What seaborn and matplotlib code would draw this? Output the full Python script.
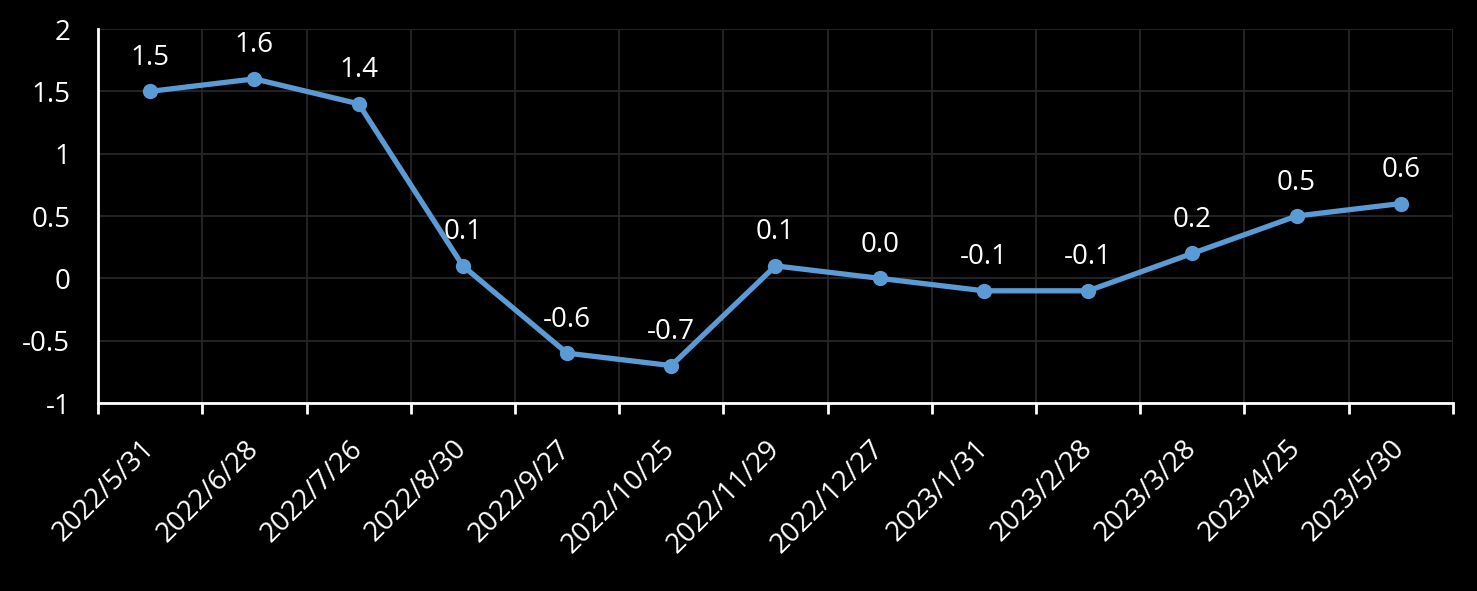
import matplotlib
matplotlib.use("Agg")
import matplotlib.pyplot as plt
import matplotlib.transforms as mtransforms
import seaborn as sns
import pandas as pd
import numpy as np

dates = ["2022/5/31", "2022/6/28", "2022/7/26", "2022/8/30", "2022/9/27", "2022/10/25",
         "2022/11/29", "2022/12/27", "2023/1/31", "2023/2/28", "2023/3/28", "2023/4/25", "2023/5/30"]
values = [1.5, 1.6, 1.4, 0.1, -0.6, -0.7, 0.1, 0.0, -0.1, -0.1, 0.2, 0.5, 0.6]
yticks = [-1, -0.5, 0, 0.5, 1, 1.5, 2]
ytick_labels = ["-1", "-0.5", "0", "0.5", "1", "1.5", "2"]

sns.set_theme(style="dark")
plt.rcParams['font.family'] = ['Open Sans', 'DejaVu Sans']

df = pd.DataFrame({"date": dates, "value": values})
df["pos"] = np.arange(len(dates))

fig = plt.figure(figsize=(14.77, 5.91), dpi=100, facecolor="black")
ax = fig.add_axes([0.0664, 0.3181, 0.9173, 0.6328])
ax.set_facecolor("black")

line_color = "#5b9bd5"
sns.lineplot(data=df, x="pos", y="value", ax=ax, color=line_color, linewidth=3.8,
             marker="o", markersize=11, markeredgewidth=0, markeredgecolor=line_color, zorder=3)

for p, v in zip(df["pos"], df["value"]):
    ax.annotate(f"{v:.1f}", (p, v), xytext=(0, 14), textcoords="offset points",
                ha="center", va="bottom", color="white", fontsize=20)

ax.set_xlim(-0.5, len(dates) - 0.5)
ax.set_ylim(-1, 2)
ax.set_yticks(yticks)
ax.set_yticklabels(ytick_labels, color="white", fontsize=20)

# ticks at category boundaries (major), labels at centers (minor)
ax.set_xticks(np.arange(len(dates) + 1) - 0.5)
ax.set_xticklabels([])
ax.set_xticks(np.arange(len(dates)), minor=True)
ax.set_xticklabels(dates, minor=True, rotation=45, ha="right", va="center",
                   rotation_mode="anchor", color="white", fontsize=20)
offset = mtransforms.ScaledTranslation(8 / 100, 0, fig.dpi_scale_trans)
for lbl in ax.get_xticklabels(minor=True):
    lbl.set_transform(lbl.get_transform() + offset)
ax.tick_params(axis="x", which="major", length=8, width=2, color="white", direction="out", bottom=True)
ax.tick_params(axis="x", which="minor", length=0, pad=30)
ax.tick_params(axis="y", length=0, pad=20)

ax.grid(True, which="major", color="#262626", linewidth=1.3)
ax.set_axisbelow(True)
ax.set_xlabel("")
ax.set_ylabel("")

for s in ["top", "right"]:
    ax.spines[s].set_visible(False)
for s in ["left", "bottom"]:
    ax.spines[s].set_visible(True)
    ax.spines[s].set_color("white")
    ax.spines[s].set_linewidth(2)

fig.savefig("out.png", dpi=100, facecolor="black")
